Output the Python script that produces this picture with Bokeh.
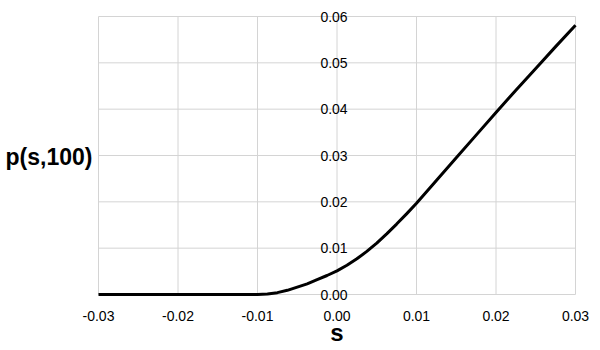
from bokeh.plotting import figure
from bokeh.models import ColumnDataSource, LabelSet, Label, Range1d
from bokeh.core.properties import value
from bokeh.embed import file_html
from bokeh.resources import INLINE

# data
s_values = [-0.03, -0.02, -0.015, -0.01, -0.00875, -0.0075, -0.00625, -0.005, -0.00375,
            -0.0025, -0.00125, 0.0, 0.00125, 0.0025, 0.00375, 0.005, 0.00625, 0.0075,
            0.00875, 0.01, 0.0125, 0.015, 0.0175, 0.02, 0.0225, 0.025, 0.0275, 0.03]
p_values = [0.0, 0.0, 0.0, 0.0, 0.0001, 0.0004, 0.0009, 0.0016, 0.0023,
            0.0032, 0.0041, 0.0051, 0.0063, 0.0077, 0.0093, 0.0111, 0.0131, 0.0152,
            0.0174, 0.0197, 0.0246, 0.0295, 0.0344, 0.0393, 0.0441, 0.0488, 0.0535, 0.0581]
x_ticks = [-0.03, -0.02, -0.01, 0.0, 0.01, 0.02, 0.03]
x_tick_labels = ["-0.03", "-0.02", "-0.01", "0.00", "0.01", "0.02", "0.03"]
y_ticks = [0.0, 0.01, 0.02, 0.03, 0.04, 0.05, 0.06]
y_tick_labels = ["0.00", "0.01", "0.02", "0.03", "0.04", "0.05", "0.06"]
x_title = "s"
y_title = "p(s,100)"

FONT = "Liberation Sans"
W, H = 600, 350
# placement of the data area within the canvas (pixels)
LEFT, RIGHT, TOP, BOTTOM = 98, 575, 16, 294

x0, x1 = x_ticks[0], x_ticks[-1]
y0, y1 = y_ticks[0], y_ticks[-1]
kx = (x1 - x0) / (RIGHT - LEFT)
ky = (y1 - y0) / (BOTTOM - TOP)

p = figure(width=W, height=H, output_backend="svg", toolbar_location=None,
           x_range=Range1d(x0 - LEFT * kx, x1 + (W - RIGHT) * kx),
           y_range=Range1d(y0 - (H - BOTTOM) * ky, y1 + TOP * ky),
           min_border=0)
p.outline_line_color = None
p.background_fill_color = "white"
p.border_fill_color = "white"
p.xaxis.visible = False
p.yaxis.visible = False
p.grid.visible = False

GRID = "#d4d4d4"
# grid lines
p.segment(x0=x_ticks, y0=[y0] * len(x_ticks), x1=x_ticks, y1=[y1] * len(x_ticks),
          line_color=GRID, line_width=1)
p.segment(x0=[x0] * len(y_ticks), y0=y_ticks, x1=[x1] * len(y_ticks), y1=y_ticks,
          line_color=GRID, line_width=1)

p.line(s_values, p_values, line_color="black", line_width=3, line_join="round")

xsrc = ColumnDataSource(dict(x=x_ticks, y=[y0] * len(x_ticks), t=x_tick_labels))
p.add_layout(LabelSet(x="x", y="y", text="t", source=xsrc, y_offset=-21,
                      text_align="center", text_baseline="middle",
                      text_font=value(FONT), text_font_size="14px", text_color="black"))

ysrc = ColumnDataSource(dict(x=[0.0] * len(y_ticks), y=y_ticks, t=y_tick_labels))
p.add_layout(LabelSet(x="x", y="y", text="t", source=ysrc, x_offset=-3,
                      text_align="center", text_baseline="middle",
                      text_font=value(FONT), text_font_size="14px", text_color="black"))

p.add_layout(Label(x=0.0, y=y0, text=x_title, y_offset=-38,
                   text_align="center", text_baseline="middle",
                   text_font=FONT, text_font_style="bold", text_font_size="24px",
                   text_color="black"))

p.add_layout(Label(x=x0, y=y_ticks[3], text=y_title, x_offset=-93, y_offset=-1,
                   text_align="left", text_baseline="middle",
                   text_font=FONT, text_font_style="bold", text_font_size="23px",
                   text_color="black"))

open("out.html", "w").write(file_html(p, INLINE))
